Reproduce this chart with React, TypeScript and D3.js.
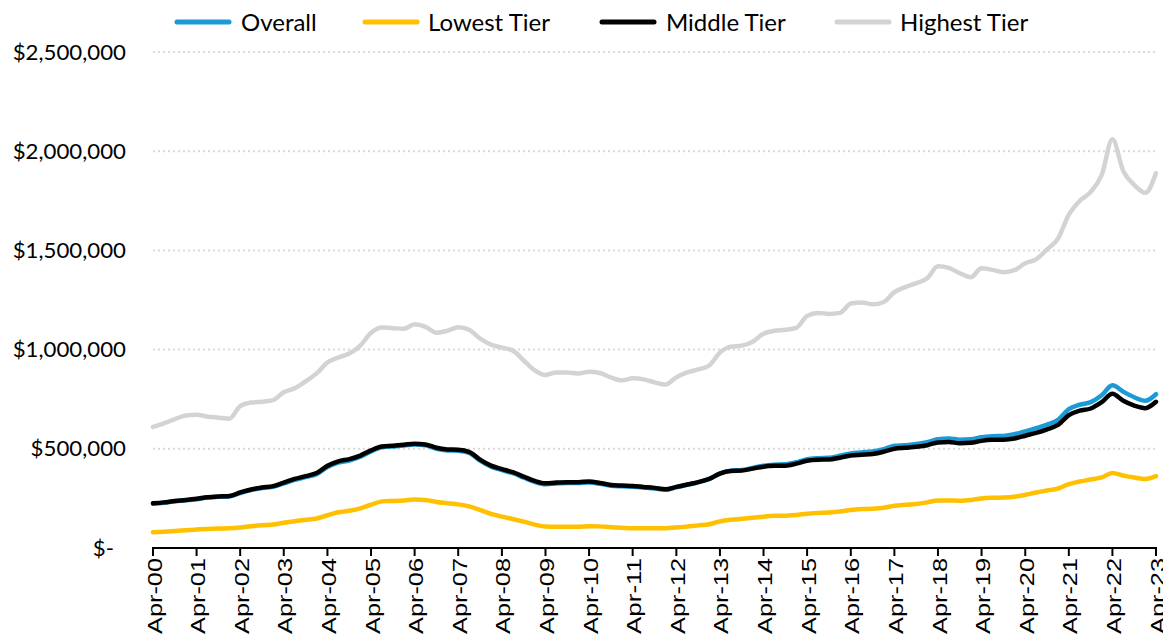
import { useEffect, useRef } from "react";
import * as d3 from "d3";

// quarterly readings, Apr-2000 .. Apr-2023 (values in $ thousands)
const overall = [
  223, 228, 235, 240, 246, 254, 258, 260, 277, 292, 302, 309, 326, 343, 357, 372,
  408, 430, 441, 460, 487, 508, 512, 516, 522, 518, 500, 492, 490, 480, 440, 410,
  393, 377, 355, 333, 321, 325, 327, 327, 330, 324, 314, 311, 309, 305, 300, 294,
  306, 318, 331, 348, 376, 390, 393, 404, 415, 420, 422, 432, 448, 453, 455, 465,
  477, 482, 487, 498, 515, 518, 524, 533, 548, 552, 546, 548, 558, 563, 565, 573,
  588, 604, 622, 646, 700, 722, 735, 770, 820, 788, 760, 742, 775,
];
const lowest = [
  79, 82, 86, 90, 93, 96, 98, 99, 103, 110, 115, 118, 127, 135, 142, 149,
  165, 180, 188, 200, 218, 235, 237, 240, 245, 242, 232, 226, 220, 210, 192, 172,
  158, 146, 133, 118, 108, 107, 107, 107, 110, 109, 105, 102, 100, 100, 99, 100,
  103, 108, 114, 120, 134, 142, 147, 152, 158, 162, 163, 166, 173, 177, 179, 184,
  192, 196, 198, 203, 213, 218, 222, 230, 240, 240, 238, 242, 250, 253, 254, 258,
  268, 280, 290, 300, 322, 335, 345, 356, 378, 365, 355, 348, 362,
];
const middle = [
  225, 230, 237, 242, 248, 256, 260, 262, 280, 295, 305, 312, 330, 348, 362, 378,
  415, 437, 448, 466, 492, 512, 515, 520, 526, 522, 505, 497, 495, 485, 445, 415,
  398, 382, 360, 338, 326, 330, 332, 332, 335, 328, 318, 315, 313, 308, 303, 296,
  308, 320, 332, 348, 375, 388, 390, 400, 410, 414, 415, 425, 440, 445, 446, 455,
  466, 470, 474, 485, 500, 505, 510, 518, 532, 534, 528, 530, 540, 545, 546, 552,
  566, 580, 598, 620, 670, 692, 703, 735, 778, 742, 718, 705, 737,
];
const highest = [
  610, 628, 650, 668, 672, 662, 657, 652, 715, 733, 737, 745, 785, 805, 840, 880,
  935, 960, 980, 1020, 1085, 1112, 1108, 1105, 1128, 1115, 1085, 1095, 1113, 1100, 1056, 1025,
  1010, 995, 945, 895, 872, 885, 885, 880, 888, 882, 860, 845, 855, 850, 835, 824,
  860, 885, 900, 920, 985, 1015, 1020, 1040, 1080, 1095, 1100, 1110, 1170, 1185, 1180, 1185,
  1232, 1238, 1228, 1240, 1290, 1315, 1335, 1360, 1420, 1412, 1385, 1365, 1410, 1402, 1390, 1400,
  1435, 1455, 1505, 1560, 1680, 1750, 1795, 1880, 2060, 1900, 1830, 1790, 1890,
];

const tickYears = d3.range(2000, 2024);
const yTicks = [0, 500000, 1000000, 1500000, 2000000, 2500000];

const series = [
  { name: "Overall", values: overall, color: "#1b9ad6", lx: 175, tx: 241 },
  { name: "Lowest Tier", values: lowest, color: "#ffc000", lx: 363, tx: 428 },
  { name: "Middle Tier", values: middle, color: "#000000", lx: 600, tx: 666 },
  { name: "Highest Tier", values: highest, color: "#d3d3d3", lx: 835, tx: 900 },
];

export default function App() {
  const svgRef = useRef<SVGSVGElement>(null);

  useEffect(() => {
    if (!svgRef.current) return;
    const svg = d3.select(svgRef.current);
    svg.selectAll("*").remove();

    const width = 1163;
    const height = 638;
    const left = 153;
    const right = 1156;
    const top = 52;
    const bottom = 548;

    const dates = overall.map((_, i) => new Date(2000, 3 + i * 3, 1));

    const x = d3.scaleTime()
      .domain([new Date(2000, 3, 1), new Date(2023, 3, 1)])
      .range([left, right]);
    const y = d3.scaleLinear().domain([0, 2500000]).range([bottom, top]);

    svg.attr("width", width).attr("height", height)
      .attr("viewBox", `0 0 ${width} ${height}`);

    // gridlines
    svg.append("g")
      .selectAll("line")
      .data(yTicks.filter(d => d > 0))
      .enter().append("line")
      .attr("x1", left).attr("x2", right)
      .attr("y1", d => y(d)).attr("y2", d => y(d))
      .attr("stroke", "#d9d9d9")
      .attr("stroke-width", 2)
      .attr("stroke-dasharray", "2,3");

    // y labels
    svg.append("g")
      .selectAll("text")
      .data(yTicks)
      .enter().append("text")
      .attr("transform", d => `translate(${d === 0 ? 114 : 126},${y(d)}) scale(1.06,1)`)
      .attr("dy", "0.36em")
      .attr("text-anchor", "end")
      .style("font-family", "Lato, sans-serif")
      .style("font-size", "21px")
      .style("fill", "#000")
      .text(d => d === 0 ? "$-" : "$" + d3.format(",")(d));

    // lines
    const line = d3.line<number>()
      .x((_, i) => x(dates[i]))
      .y(d => y(d * 1000))
      .curve(d3.curveMonotoneX);

    svg.append("g")
      .selectAll("path")
      .data(series)
      .enter().append("path")
      .attr("d", d => line(d.values))
      .attr("fill", "none")
      .attr("stroke", d => d.color)
      .attr("stroke-width", 4.5)
      .attr("stroke-linejoin", "round")
      .attr("stroke-linecap", "round");

    // x axis
    const ax = svg.append("g");
    ax.append("line")
      .attr("x1", left - 1).attr("x2", right + 1)
      .attr("y1", bottom).attr("y2", bottom)
      .attr("stroke", "#000").attr("stroke-width", 2);
    ax.selectAll(".tick")
      .data(tickYears)
      .enter().append("line")
      .attr("x1", d => x(new Date(d, 3, 1))).attr("x2", d => x(new Date(d, 3, 1)))
      .attr("y1", bottom).attr("y2", bottom + 8)
      .attr("stroke", "#000").attr("stroke-width", 2);
    ax.selectAll(".lbl")
      .data(tickYears)
      .enter().append("text")
      .attr("transform", d => `translate(${x(new Date(d, 3, 1)) + 1},${bottom + 10}) rotate(-90)`)
      .attr("dy", "0.36em")
      .attr("text-anchor", "end")
      .attr("textLength", 76)
      .attr("lengthAdjust", "spacingAndGlyphs")
      .style("font-family", "'Liberation Sans', Arial, sans-serif")
      .style("font-size", "21px")
      .style("fill", "#000")
      .text(d => "Apr-" + String(d % 100).padStart(2, "0"));

    // legend
    const lg = svg.append("g");
    series.forEach(s => {
      lg.append("line")
        .attr("x1", s.lx + 2).attr("x2", s.lx + 54)
        .attr("y1", 22).attr("y2", 22)
        .attr("stroke", s.color)
        .attr("stroke-width", 5)
        .attr("stroke-linecap", "round");
      lg.append("text")
        .attr("x", s.tx).attr("y", 22)
        .attr("dy", "0.36em")
        .style("font-family", "Lato, sans-serif")
        .style("font-size", "24px")
        .style("fill", "#000")
        .text(s.name);
    });
  }, []);

  return (
    <div style={{ position: "absolute", left: 0, top: 0 }}>
      <svg ref={svgRef} style={{ display: "block" }}></svg>
    </div>
  );
}
